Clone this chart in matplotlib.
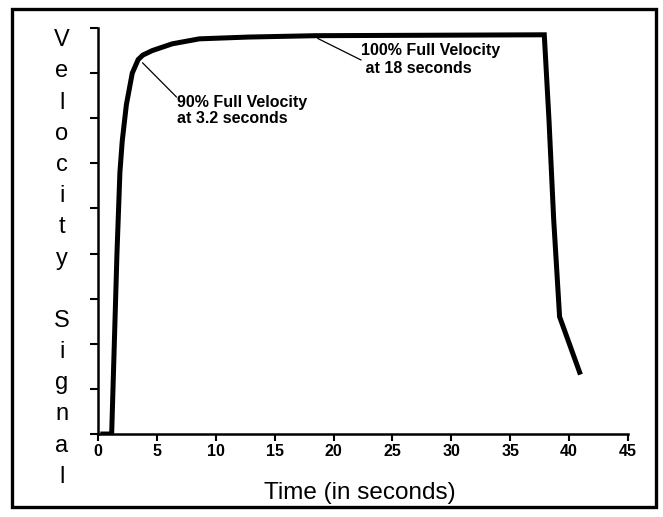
import matplotlib.pyplot as plt
from matplotlib.patches import Rectangle

# velocity trace
time_s = [0.4, 1.15, 1.6, 1.85, 2.05, 2.4, 2.9, 3.4, 3.8, 4.6, 6.3, 8.6,
          12.8, 18.5, 37.9, 38.3, 38.7, 39.2, 40.9]
velocity = [0.0, 0.0, 4.0, 5.8, 6.5, 7.3, 8.0, 8.3, 8.4, 8.5, 8.65, 8.76,
            8.80, 8.83, 8.85, 6.96, 4.75, 2.6, 1.37]

x_ticks = [0, 5, 10, 15, 20, 25, 30, 35, 40, 45]
y_ticks = list(range(10))

plt.rcParams['font.family'] = ['Liberation Sans', 'DejaVu Sans']

fig = plt.figure(figsize=(6.63, 5.17), dpi=100)
ax = fig.add_axes([0.148, 0.1605, 0.799, 0.7853])

ax.plot(time_s, velocity, color="black", lw=3.6, solid_joinstyle="miter")

ax.set_xlim(0, 45)
ax.set_ylim(0, 9)
ax.set_xticks(x_ticks)
ax.set_yticks(y_ticks)
ax.set_yticklabels([])
ax.tick_params(axis="x", direction="out", length=5, width=1.5, pad=2,
               labelsize=11.5)
ax.tick_params(axis="y", direction="out", length=6, width=1.5)
for lab in ax.get_xticklabels():
    lab.set_fontweight("bold")

for side in ["top", "right"]:
    ax.spines[side].set_visible(False)
for side in ["left", "bottom"]:
    ax.spines[side].set_linewidth(1.8)

# annotations
ax.annotate("", xy=(3.77, 8.23), xytext=(6.66, 7.47),
            arrowprops=dict(arrowstyle="-", lw=0.9, shrinkA=0, shrinkB=0))
ax.text(6.66, 7.52, "90% Full Velocity\nat 3.2 seconds", fontsize=11.5,
        fontweight="bold", va="top", ha="left", linespacing=1.1)
ax.annotate("", xy=(18.65, 8.77), xytext=(22.34, 8.29),
            arrowprops=dict(arrowstyle="-", lw=0.9, shrinkA=0, shrinkB=0))
ax.text(22.34, 8.66, "100% Full Velocity\n at 18 seconds", fontsize=11.5,
        fontweight="bold", va="top", ha="left", linespacing=1.25)

fig.text(0.543, 0.046, "Time (in seconds)", fontsize=17.5, ha="center",
         va="center")
fig.text(0.0935, 0.5, "V\ne\nl\no\nc\ni\nt\ny\n\nS\ni\ng\nn\na\nl",
         fontsize=17, ha="center", va="center", linespacing=1.54)

# frame around the whole figure
fig.patches.append(Rectangle((12 / 663, 10 / 517), 644 / 663, 498 / 517,
                             transform=fig.transFigure, fill=False,
                             lw=2.4, ec="black"))

fig.savefig("out.png", dpi=100)
